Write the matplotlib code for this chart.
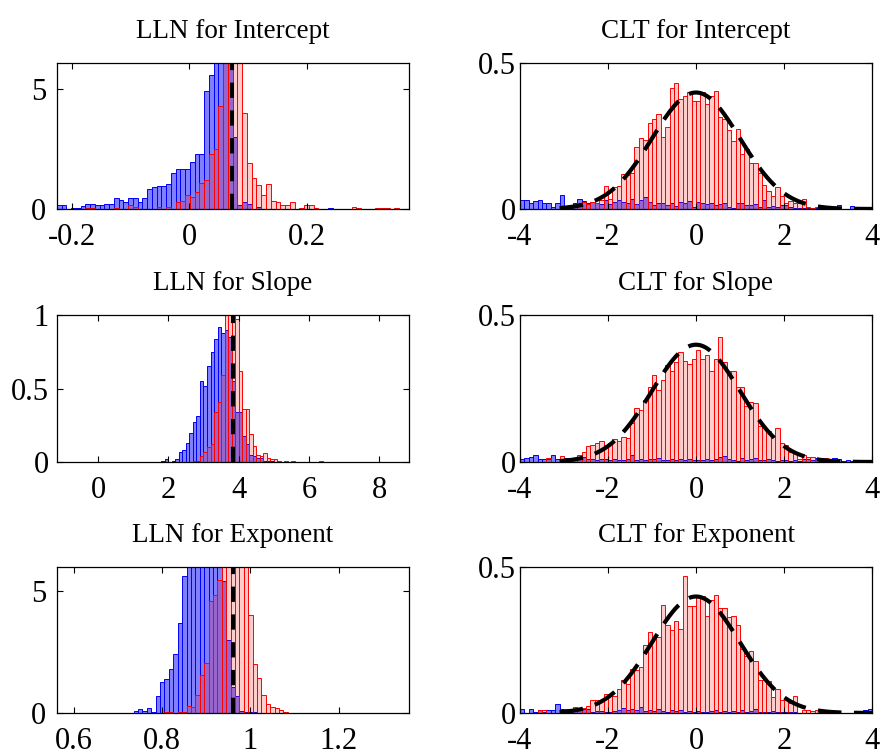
import matplotlib
matplotlib.use("Agg")
import matplotlib.pyplot as plt
import numpy as np

plt.rcParams['font.family'] = ['Liberation Serif', 'DejaVu Serif']
plt.rcParams['axes.unicode_minus'] = False
plt.rcParams['lines.scale_dashes'] = False

# ---- data ------------------------------------------------------------------
# LLN for Intercept
int_start, int_width = -0.226, 0.0081
int_blue = [0.15, 0.15, 0, 0.03, 0.03, 0.12, 0.22, 0.22, 0.15, 0.15,
            0.22, 0.22, 0.45, 0.38, 0.3, 0.45, 0.45, 0.3, 0.45, 0.85,
            0.92, 0.97, 0.95, 1.05, 1.5, 1.65, 1.65, 1.65, 1.95, 2.3,
            2.3, 4.9, 5.6, 6.5, 6.5, 6.5, 6.5, 3.0, 0.15, 0.3,
            0.2, 0, 0.1, 0, 0, 0, 0, 0, 0, 0,
            0, 0, 0, 0, 0, 0, 0, 0.03, 0, 0,
            0, 0, 0, 0, 0, 0, 0, 0, 0, 0,
            0, 0, 0, 0]
int_red = [0, 0, 0, 0.02, 0.02, 0, 0.03, 0.03, 0, 0,
           0, 0, 0.05, 0, 0, 0.15, 0.1, 0, 0, 0,
           0, 0.1, 0, 0.1, 0, 0.3, 0.35, 0.6, 0.5, 0.7,
           1.1, 1.2, 2.3, 2.5, 4.3, 6.5, 6.5, 6.5, 6.5, 4.0,
           1.9, 1.3, 1.0, 0.6, 1.05, 0.35, 0.3, 0.15, 0.15, 0.3,
           0.02, 0.05, 0.15, 0.15, 0.05, 0.02, 0, 0, 0, 0,
           0, 0, 0.1, 0.03, 0, 0, 0, 0.03, 0.03, 0.03,
           0, 0.03, 0, 0]
int_true = 0.072

# LLN for Slope
slo_start, slo_width = 1.8, 0.1
slo_blue = [0.01, 0.02, 0, 0.01, 0.02, 0.07, 0.08, 0.13, 0.2, 0.27,
            0.31, 0.55, 0.52, 0.65, 0.75, 0.84, 0.92, 0.88, 0.9, 0.85,
            0.55, 0.34, 0.34, 0.18, 0.12, 0.05, 0.04, 0.03, 0.03, 0.01,
            0.01, 0.01, 0, 0, 0, 0, 0, 0, 0, 0,
            0, 0, 0, 0, 0, 0, 0]
slo_red = [0, 0, 0, 0, 0, 0, 0, 0, 0, 0.01,
           0.005, 0.04, 0.07, 0.1, 0.12, 0.34, 0.41, 0.59, 1.05, 1.05,
           1.05, 0.97, 0.62, 0.36, 0.36, 0.19, 0.11, 0.05, 0.04, 0.06,
           0.03, 0.02, 0.02, 0.01, 0, 0.01, 0, 0.01, 0, 0,
           0, 0, 0, 0, 0, 0.01, 0]
slo_true = 3.84

# LLN for Exponent
exp_start, exp_width = 0.665, 0.01
exp_blue = [0.02, 0.01, 0.01, 0.01, 0, 0.02, 0, 0.08, 0.15, 0.08,
            0.2, 0.05, 0.7, 1.25, 1.4, 1.8, 2.4, 3.7, 5.6, 7,
            7, 7, 7, 7, 7, 7, 6.5, 5.4, 3.0, 1.07,
            0.7, 0.1, 0.05, 0.03, 0.03, 0, 0, 0, 0, 0,
            0, 0, 0, 0, 0, 0, 0, 0, 0]
exp_red = [0, 0, 0, 0, 0, 0, 0, 0, 0, 0,
           0, 0, 0, 0, 0.03, 0.03, 0, 0.05, 0.05, 0.3,
           0.25, 0.75, 1.55, 2.05, 4.6, 4.85, 5.45, 7, 7, 7,
           7, 7, 7, 4.0, 2.0, 1.45, 0.75, 0.35, 0.25, 0.2,
           0.12, 0.05, 0, 0.02, 0, 0, 0.02, 0, 0]
exp_true = 0.96

# CLT panels: 80 bins of width 0.1 on [-4, 4]
clt_start, clt_width = -4.0, 0.1
clt_int_blue = [0.031, 0.031, 0.02, 0.029, 0.031, 0.022, 0.02, 0.008, 0.02, 0.048,
                0.008, 0.005, 0.02, 0.033, 0.029, 0.02, 0.025, 0.02, 0.017, 0.031,
                0.017, 0.025, 0.031, 0.025, 0.02, 0.033, 0.017, 0.031, 0.04, 0.025,
                0.014, 0.02, 0.02, 0.014, 0.022, 0.01, 0.025, 0.02, 0.029, 0.008,
                0.025, 0.02, 0.017, 0.02, 0.014, 0.017, 0.022, 0.008, 0.002, 0.02,
                0.02, 0.014, 0.014, 0.017, 0.008, 0.031, 0.008, 0.01, 0.008, 0.014,
                0.014, 0.008, 0.005, 0.005, 0.003, 0.003, 0.002, 0.003, 0.003, 0,
                0.005, 0.002, 0.014, 0, 0, 0.01, 0, 0, 0, 0]
clt_int_red = [0, 0, 0, 0, 0, 0, 0, 0, 0, 0,
               0, 0, 0.008, 0.02, 0.025, 0.017, 0.025, 0.022, 0.031, 0.079,
               0.033, 0.077, 0.079, 0.12, 0.117, 0.123, 0.213, 0.244, 0.238, 0.293,
               0.309, 0.324, 0.247, 0.28, 0.416, 0.431, 0.378, 0.387, 0.401, 0.37,
               0.37, 0.4, 0.359, 0.387, 0.405, 0.316, 0.309, 0.27, 0.232, 0.275,
               0.19, 0.206, 0.157, 0.157, 0.123, 0.083, 0.063, 0.043, 0.077, 0.043,
               0.02, 0.029, 0.02, 0.022, 0.033, 0.008, 0.005, 0.008, 0.01, 0,
               0, 0, 0, 0, 0, 0, 0, 0, 0, 0]
clt_slo_blue = [0.011, 0.014, 0.017, 0.025, 0.011, 0.009, 0.011, 0.025, 0.011, 0.005,
                0.014, 0.009, 0.009, 0.017, 0.017, 0.009, 0.011, 0.008, 0.011, 0.009,
                0.008, 0.011, 0.007, 0.008, 0.009, 0.025, 0.008, 0.011, 0.007, 0.009,
                0.011, 0.014, 0.008, 0.007, 0.009, 0.006, 0.009, 0.007, 0.011, 0.006,
                0.007, 0.008, 0.011, 0.007, 0.009, 0.017, 0.02, 0.009, 0.007, 0.005,
                0.014, 0.007, 0.009, 0.014, 0.006, 0.007, 0.011, 0.007, 0.005, 0.008,
                0.007, 0.005, 0.007, 0.005, 0.009, 0.011, 0.007, 0.014, 0.014, 0.011,
                0.011, 0.014, 0.009, 0.005, 0.006, 0.005, 0.008, 0.003, 0.002, 0]
clt_slo_red = [0, 0, 0, 0, 0, 0, 0.014, 0, 0, 0.02,
               0, 0, 0.011, 0.025, 0.034, 0.055, 0.059, 0.066, 0.07, 0.057,
               0.063, 0.077, 0.07, 0.085, 0.08, 0.134, 0.184, 0.176, 0.21, 0.256,
               0.295, 0.244, 0.278, 0.33, 0.309, 0.341, 0.373, 0.343, 0.335, 0.352,
               0.381, 0.35, 0.364, 0.309, 0.35, 0.426, 0.341, 0.309, 0.309, 0.256,
               0.256, 0.19, 0.205, 0.2, 0.122, 0.12, 0.105, 0.085, 0.114, 0.063,
               0.057, 0.034, 0.034, 0.011, 0.025, 0.017, 0.017, 0.011, 0.011, 0.014,
               0.011, 0, 0, 0, 0, 0, 0, 0, 0, 0]
clt_exp_blue = [0.014, 0, 0.014, 0.005, 0.011, 0.004, 0.009, 0.011, 0.031, 0.014,
                0.005, 0.005, 0.011, 0.014, 0.014, 0.014, 0.005, 0.008, 0.008, 0.005,
                0.005, 0.008, 0.011, 0.017, 0.011, 0.014, 0.011, 0.02, 0.008, 0.011,
                0.006, 0.014, 0.008, 0.005, 0.011, 0.006, 0.011, 0.005, 0.008, 0.005,
                0.008, 0.005, 0.005, 0.006, 0.011, 0.005, 0.008, 0.005, 0.006, 0.005,
                0.011, 0.005, 0.008, 0.014, 0.005, 0.003, 0.005, 0.006, 0.003, 0.003,
                0.005, 0.003, 0.003, 0, 0, 0, 0, 0, 0, 0,
                0, 0, 0, 0, 0, 0, 0, 0, 0.011, 0.014]
clt_exp_red = [0, 0, 0, 0, 0.011, 0.011, 0, 0, 0, 0.011,
               0.014, 0.011, 0.02, 0.011, 0.017, 0.023, 0.046, 0.043, 0.046, 0.065,
               0.057, 0.057, 0.082, 0.112, 0.1, 0.151, 0.146, 0.158, 0.234, 0.276,
               0.26, 0.26, 0.371, 0.302, 0.285, 0.314, 0.288, 0.47, 0.365, 0.368,
               0.4, 0.402, 0.331, 0.386, 0.405, 0.36, 0.36, 0.329, 0.333, 0.302,
               0.219, 0.194, 0.211, 0.177, 0.112, 0.114, 0.108, 0.055, 0.082, 0.046,
               0.046, 0.034, 0.059, 0, 0.011, 0.011, 0.008, 0.011, 0.011, 0.011,
               0, 0, 0, 0, 0, 0, 0, 0, 0, 0]

titles = ["LLN for Intercept", "CLT for Intercept",
          "LLN for Slope", "CLT for Slope",
          "LLN for Exponent", "CLT for Exponent"]

# ---- figure -----------------------------------------------------------------
fig = plt.figure(figsize=(8.83, 7.55), dpi=100)

W, H = 883.0, 755.0
col_x = [57, 520]
row_y = [(63, 209), (315, 462), (567, 713)]
axw = 352

def make_ax(r, c):
    top, bot = row_y[r]
    return fig.add_axes([col_x[c] / W, 1 - bot / H, axw / W, (bot - top) / H])

def draw_hist(ax, start, width, blue, red):
    blue = np.asarray(blue)
    red = np.asarray(red)
    left_b = start + width * np.arange(len(blue))
    left_r = start + width * np.arange(len(red))
    ax.bar(left_b, blue, width=width, align='edge',
           facecolor=(0, 0, 1, 0.5), edgecolor=(0, 0, 1), linewidth=0.7)
    ax.bar(left_r, red, width=width, align='edge',
           facecolor=(1, 0, 0, 0.2), edgecolor=(1, 0, 0), linewidth=0.7)

def style(ax, xlim, ylim, xt, xtl, yt, ytl, title, ypad):
    ax.set_xlim(*xlim)
    ax.set_ylim(*ylim)
    ax.set_xticks(xt)
    ax.set_xticklabels(xtl)
    ax.set_yticks(yt)
    ax.set_yticklabels(ytl)
    ax.tick_params(direction='in', length=4, width=0.8, top=True, right=True,
                   labelsize=22)
    ax.tick_params(axis='x', pad=10)
    ax.tick_params(axis='y', pad=ypad)
    for s in ax.spines.values():
        s.set_linewidth(0.9)
    ax.set_title(title, fontsize=19.5, pad=18)

vline_kw = dict(color='k', linewidth=2.9, linestyle=(0, (11, 9)))
curve_kw = dict(color='k', linewidth=3.0, linestyle=(0, (17, 9)))

# LLN intercept
ax = make_ax(0, 0)
draw_hist(ax, int_start, int_width, int_blue, int_red)
ax.axvline(int_true, **vline_kw)
style(ax, (-0.2256, 0.374), (0, 6.08), [-0.2, 0, 0.2], ["-0.2", "0", "0.2"],
      [0, 5], ["0", "5"], titles[0], 8)

# LLN slope
ax = make_ax(1, 0)
draw_hist(ax, slo_start, slo_width, slo_blue, slo_red)
ax.axvline(slo_true, **vline_kw)
style(ax, (-1.17, 8.85), (0, 1), [0, 2, 4, 6, 8], ["0", "2", "4", "6", "8"],
      [0, 0.5, 1], ["0", "0.5", "1"], titles[2], 6)

# LLN exponent
ax = make_ax(2, 0)
draw_hist(ax, exp_start, exp_width, exp_blue, exp_red)
ax.axvline(exp_true, **vline_kw)
style(ax, (0.561, 1.36), (0, 5.98), [0.6, 0.8, 1, 1.2], ["0.6", "0.8", "1", "1.2"],
      [0, 5], ["0", "5"], titles[4], 8)

# CLT panels
grid = np.linspace(-3.1, 4, 300)
pdf = np.exp(-grid ** 2 / 2) / np.sqrt(2 * np.pi)
clt_sets = [(clt_int_blue, clt_int_red, titles[1]),
            (clt_slo_blue, clt_slo_red, titles[3]),
            (clt_exp_blue, clt_exp_red, titles[5])]
for r, (b, rd, t) in enumerate(clt_sets):
    ax = make_ax(r, 1)
    draw_hist(ax, clt_start, clt_width, b, rd)
    ax.plot(grid, pdf, **curve_kw)
    style(ax, (-4, 4), (0, 0.5), [-4, -2, 0, 2, 4], ["-4", "-2", "0", "2", "4"],
          [0, 0.5], ["0", "0.5"], t, 3)

fig.savefig("out.png", dpi=100)
